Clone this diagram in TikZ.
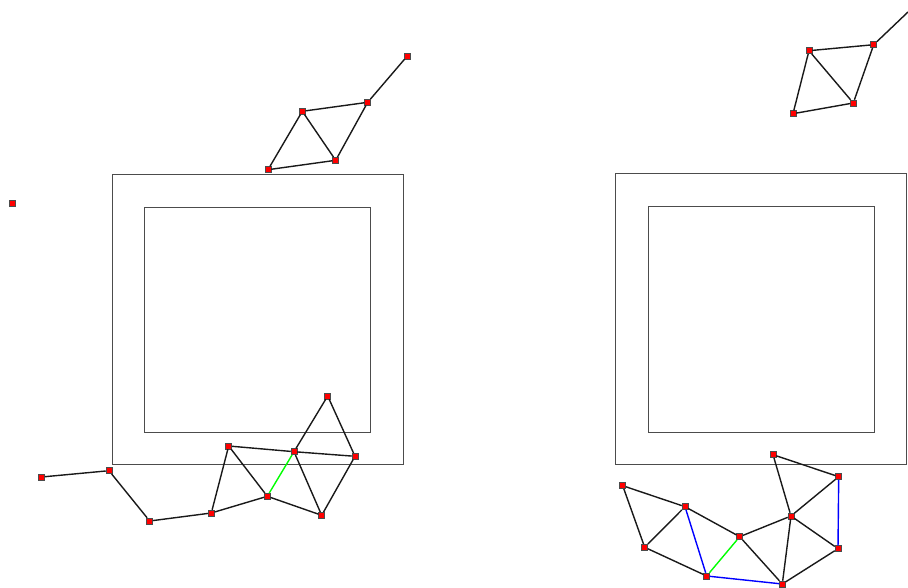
\documentclass[tikz,border=0pt]{standalone}
\begin{document}
\begin{tikzpicture}[x=1pt,y=-1pt,
  vtx/.style={draw=black!70,fill=red,line width=0.5pt,minimum size=6pt,inner sep=0pt,rectangle},
  edge/.style={draw=black!90,line width=1.4pt},
  greenedge/.style={draw=green,line width=1.4pt},
  blueedge/.style={draw=blue,line width=1.4pt},
  frame/.style={draw=black!70,line width=0.8pt}]
\useasboundingbox (0,0) rectangle (908,588);
% frames
\draw[frame] (112,174) rectangle (403,464);
\draw[frame] (144.5,207) rectangle (370.5,432);
\draw[frame] (615,173) rectangle (906,464);
\draw[frame] (648,206) rectangle (874,432);
% left bottom nodes
\node[vtx] (a1) at (41.7,477) {};
\node[vtx] (a2) at (109,470.7) {};
\node[vtx] (a3) at (149.7,521) {};
\node[vtx] (a4) at (211.3,513) {};
\node[vtx] (a5) at (228.7,446) {};
\node[vtx] (a6) at (267.3,496.3) {};
\node[vtx] (a7) at (294,451.7) {};
\node[vtx] (a8) at (327.7,396) {};
\node[vtx] (a9) at (355,456.3) {};
\node[vtx] (a10) at (321.7,515.3) {};
% top left nodes
\node[vtx] (b1) at (268,169.7) {};
\node[vtx] (b2) at (302.3,111.3) {};
\node[vtx] (b3) at (335.7,160.3) {};
\node[vtx] (b4) at (367.7,102.3) {};
\node[vtx] (b5) at (407.3,56) {};
\node[vtx] (iso) at (12,203) {};
% top right nodes
\node[vtx] (c1) at (809,50.7) {};
\node[vtx] (c2) at (873.7,44.7) {};
\node[vtx] (c3) at (853.3,103) {};
\node[vtx] (c4) at (793,113.7) {};
\coordinate (cend) at (908,12);
% right bottom nodes
\node[vtx] (d1) at (622.7,485.7) {};
\node[vtx] (d2) at (685,506.7) {};
\node[vtx] (d3) at (644.7,547.3) {};
\node[vtx] (d4) at (706.7,576) {};
\node[vtx] (d5) at (739.7,536.7) {};
\node[vtx] (d6) at (782.3,584) {};
\node[vtx] (d7) at (791,516) {};
\node[vtx] (d8) at (773,454.7) {};
\node[vtx] (d9) at (838.7,476.7) {};
\node[vtx] (d10) at (838,548.7) {};
% edges
\draw[edge] (a1)--(a2) (a2)--(a3) (a3)--(a4) (a4)--(a5) (a4)--(a6) (a5)--(a6)
  (a5)--(a7) (a7)--(a9) (a6)--(a10) (a7)--(a8) (a8)--(a9) (a7)--(a10) (a9)--(a10);
\draw[greenedge] (a6)--(a7);
\draw[edge] (b1)--(b2) (b1)--(b3) (b2)--(b3) (b2)--(b4) (b3)--(b4) (b4)--(b5);
\draw[edge] (c1)--(c2) (c1)--(c3) (c1)--(c4) (c2)--(c3) (c3)--(c4) (c2)--(cend);
\draw[edge] (d1)--(d2) (d1)--(d3) (d2)--(d3) (d2)--(d5) (d3)--(d4) (d5)--(d6)
  (d5)--(d7) (d6)--(d7) (d6)--(d10) (d7)--(d8) (d7)--(d9) (d7)--(d10) (d8)--(d9);
\draw[blueedge] (d2)--(d4) (d4)--(d6) (d9)--(d10);
\draw[greenedge] (d4)--(d5);
\end{tikzpicture}
\end{document}
